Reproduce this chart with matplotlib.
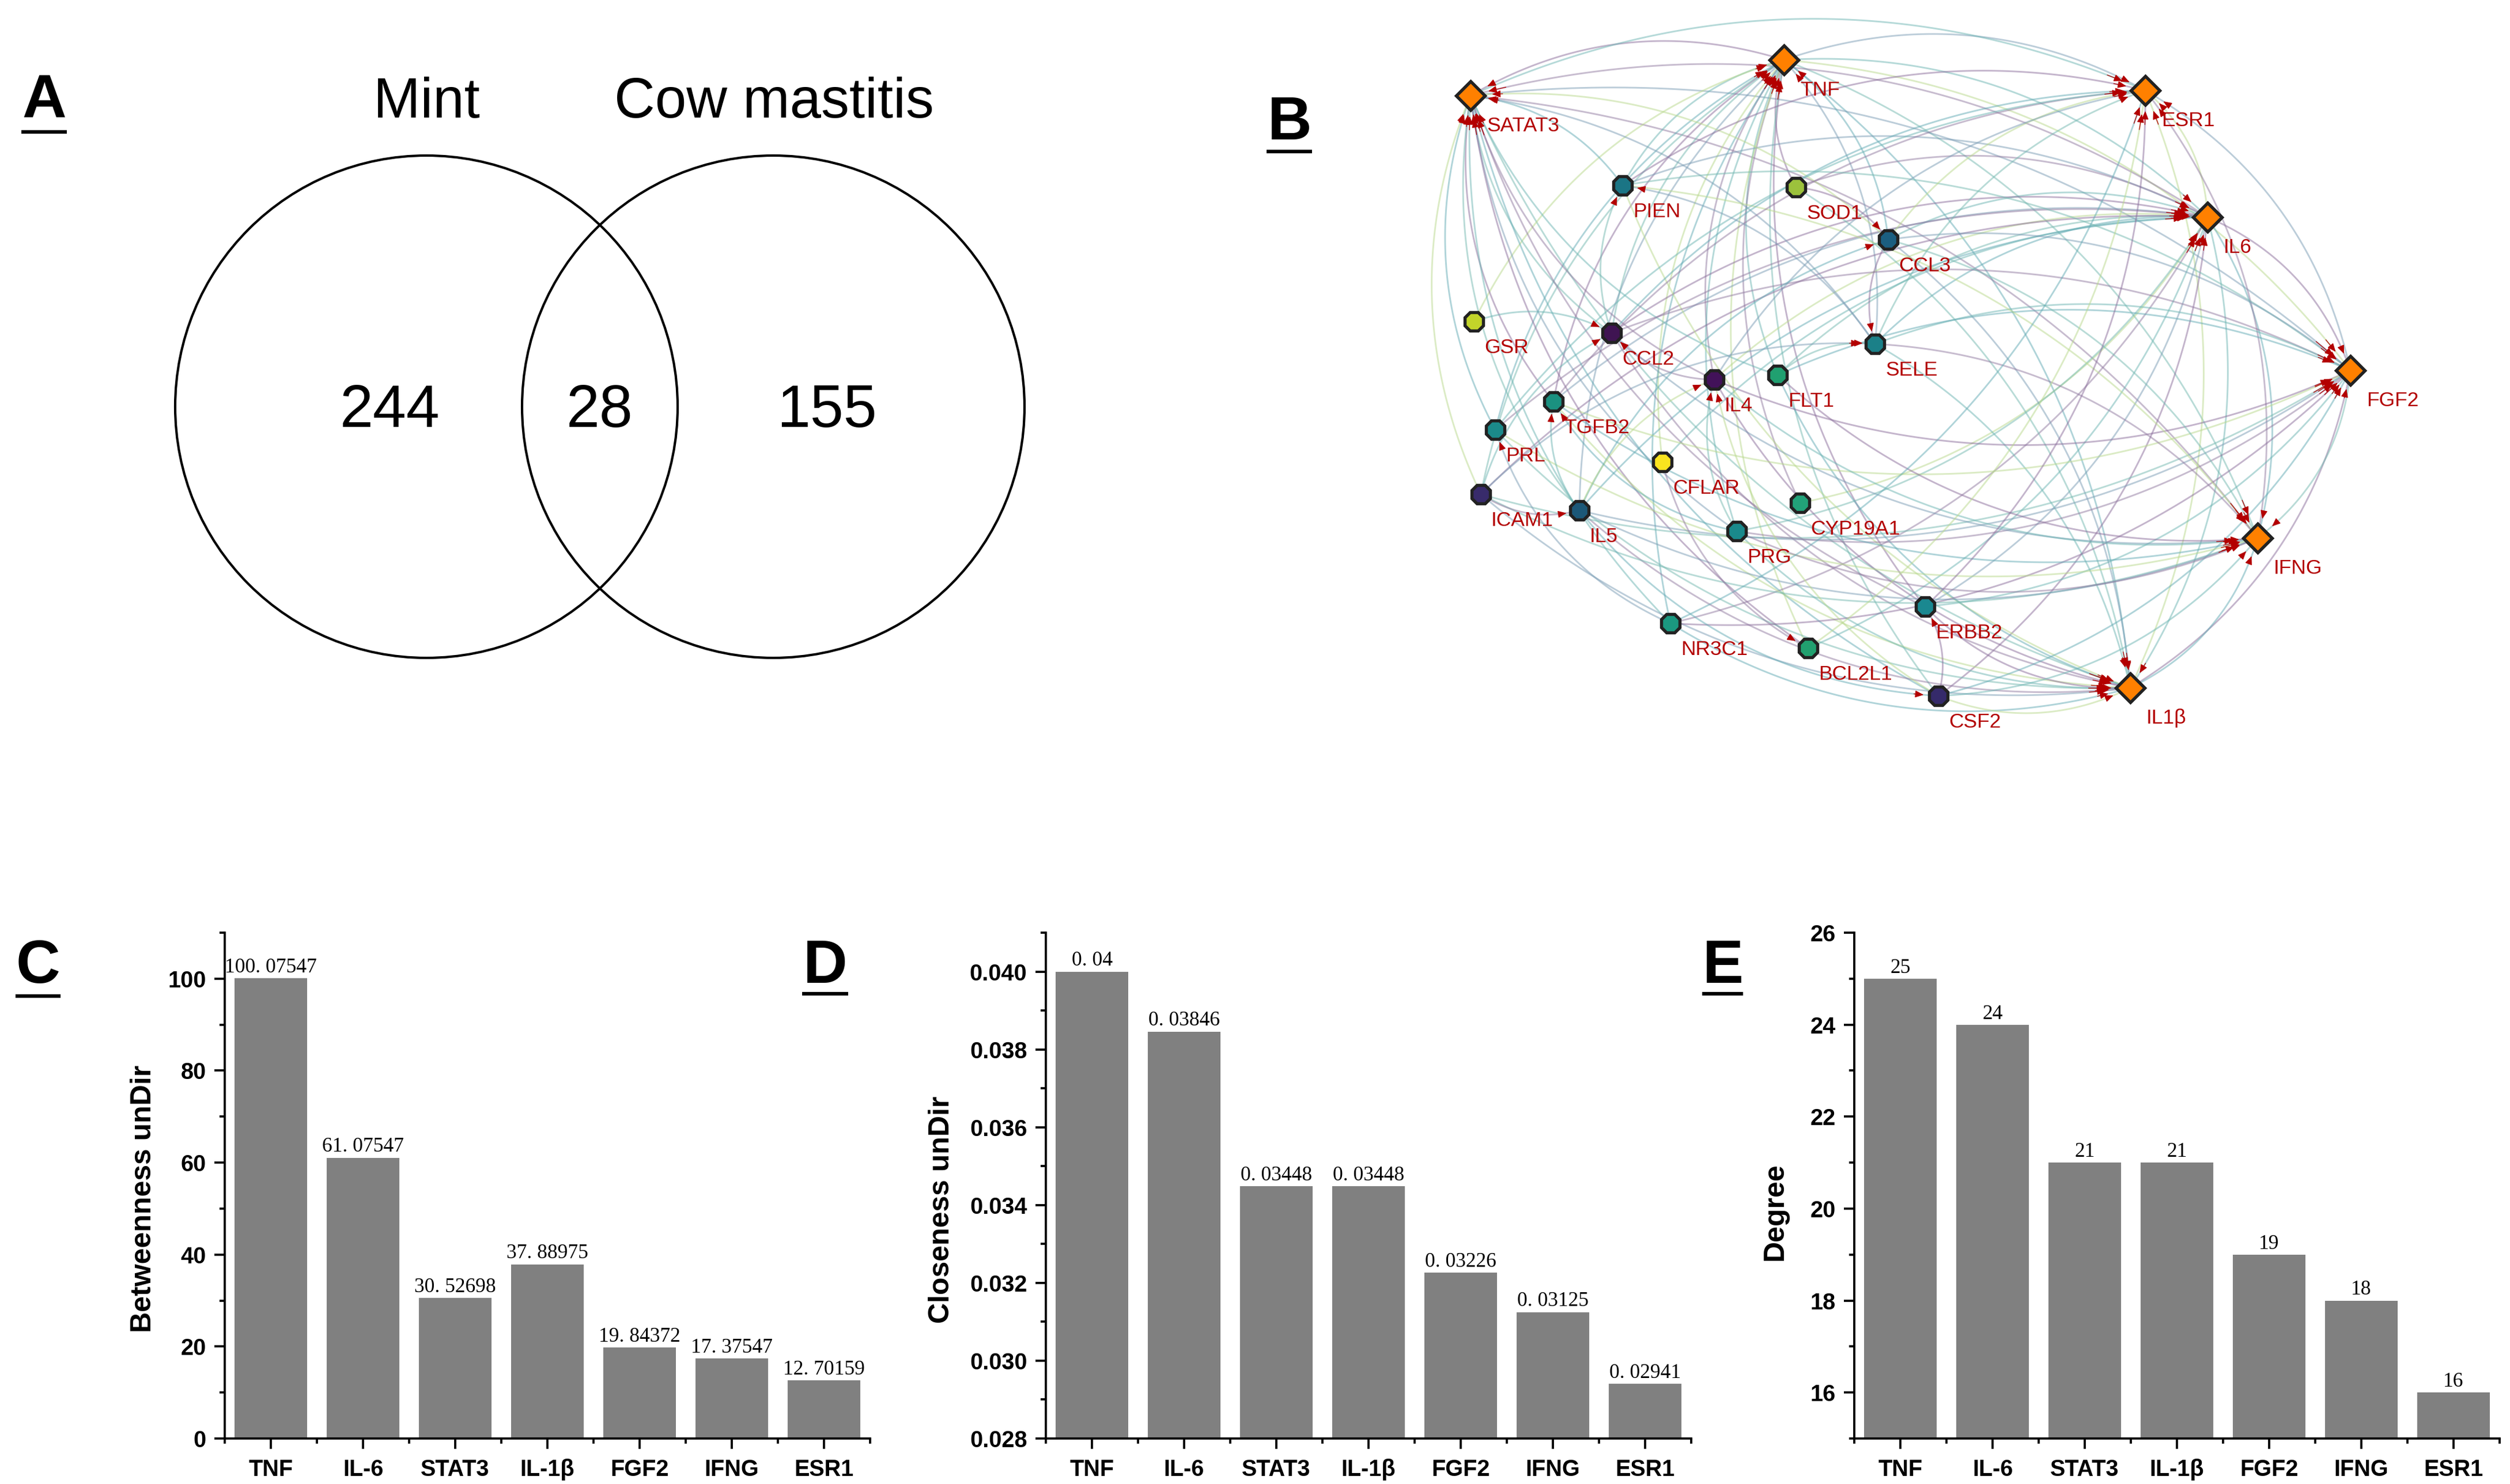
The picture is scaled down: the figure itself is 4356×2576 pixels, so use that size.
import numpy as np
import matplotlib.pyplot as plt
from matplotlib.patches import Circle
from matplotlib.ticker import MultipleLocator, FixedLocator, FormatStrFormatter

plt.rcParams['font.family'] = ['Liberation Sans', 'DejaVu Sans']

W, H = 4356, 2576

# ---- panel A: Venn counts
venn_sets = ['Mint', 'Cow mastitis']
venn_counts = [244, 28, 155]

# ---- panel B: network (positions, pixel units)
node_names = ['SATAT3', 'TNF', 'ESR1', 'IL6', 'FGF2', 'IFNG', 'IL1β',
              'PIEN', 'SOD1', 'CCL3', 'GSR', 'CCL2', 'SELE', 'IL4', 'FLT1',
              'TGFB2', 'PRL', 'CFLAR', 'ICAM1', 'IL5', 'CYP19A1', 'PRG',
              'ERBB2', 'NR3C1', 'BCL2L1', 'CSF2']
node_x = [2552, 3096, 3723, 3831, 4079, 3918, 3697,
          2816, 3117, 3277, 2558, 2797, 3254, 2975, 3085,
          2696, 2595, 2885, 2570, 2741, 3124, 3014,
          3341, 2899, 3138, 3364]
node_y = [166, 104, 157, 377, 643, 934, 1194,
          322, 325, 416, 558, 578, 597, 659, 651,
          697, 746, 802, 858, 886, 873, 922,
          1053, 1082, 1125, 1208]
node_colors = ['#ff8000'] * 7 + [
    '#1b7585', '#9cc23c', '#1b5e80', '#c2d42a', '#3f1452', '#1b8088',
    '#421259', '#20a070', '#1b9180', '#1b8a8a', '#f9e41f', '#382b6b',
    '#1c5878', '#22a279', '#1a8a8c', '#1a8890', '#1b9880', '#21a06f',
    '#352a6a']

hub_pairs = [('TNF', 'IL6'), ('TNF', 'SATAT3'), ('TNF', 'IL1β'), ('TNF', 'FGF2'),
             ('TNF', 'IFNG'), ('TNF', 'ESR1'), ('IL6', 'SATAT3'), ('IL6', 'IL1β'),
             ('IL6', 'FGF2'), ('IL6', 'IFNG'), ('IL6', 'ESR1'), ('SATAT3', 'IL1β'),
             ('SATAT3', 'FGF2'), ('SATAT3', 'IFNG'), ('SATAT3', 'ESR1'),
             ('IL1β', 'FGF2'), ('IL1β', 'IFNG'), ('IL1β', 'ESR1'),
             ('FGF2', 'IFNG'), ('FGF2', 'ESR1'), ('IFNG', 'ESR1')]
tnf_links = ['PIEN', 'SOD1', 'CCL3', 'GSR', 'CCL2', 'SELE', 'IL4', 'FLT1', 'TGFB2',
             'PRL', 'CFLAR', 'ICAM1', 'IL5', 'CYP19A1', 'PRG', 'ERBB2', 'NR3C1',
             'BCL2L1', 'CSF2']
il6_links = ['PIEN', 'SOD1', 'CCL3', 'CCL2', 'SELE', 'IL4', 'FLT1', 'TGFB2',
             'PRL', 'CFLAR', 'ICAM1', 'IL5', 'CYP19A1', 'PRG', 'ERBB2', 'NR3C1',
             'BCL2L1', 'CSF2']
stat3_links = ['PIEN', 'CCL3', 'CCL2', 'SELE', 'IL4', 'FLT1', 'TGFB2', 'PRL',
               'ICAM1', 'IL5', 'PRG', 'ERBB2', 'NR3C1', 'BCL2L1', 'CSF2']
il1b_links = ['PIEN', 'SOD1', 'CCL3', 'CCL2', 'SELE', 'IL4', 'FLT1', 'TGFB2',
              'PRL', 'ICAM1', 'IL5', 'PRG', 'ERBB2', 'NR3C1', 'CSF2']
fgf2_links = ['PIEN', 'CCL3', 'CCL2', 'SELE', 'IL4', 'FLT1', 'TGFB2', 'ICAM1',
              'IL5', 'PRG', 'ERBB2', 'NR3C1', 'CSF2']
ifng_links = ['PIEN', 'CCL3', 'CCL2', 'SELE', 'IL4', 'FLT1', 'TGFB2', 'PRL',
              'ICAM1', 'IL5', 'PRG', 'CSF2']
esr1_links = ['PIEN', 'CCL2', 'CCL3', 'SELE', 'IL4', 'TGFB2', 'PRL', 'ERBB2',
              'NR3C1', 'BCL2L1']
other_links = [('CCL2', 'PIEN'), ('SELE', 'PIEN'), ('IL4', 'CCL2'), ('ICAM1', 'CCL2'),
               ('CCL3', 'SELE'), ('IL5', 'CCL3'), ('IL5', 'IL4'), ('PRG', 'IL4'),
               ('ICAM1', 'SELE'), ('ICAM1', 'IL5'), ('IL5', 'TGFB2'), ('CSF2', 'ERBB2'),
               ('IL5', 'CSF2'), ('CSF2', 'IL4'), ('FLT1', 'SELE'), ('NR3C1', 'PRL'),
               ('CFLAR', 'BCL2L1'), ('GSR', 'CCL2'), ('SOD1', 'CCL3'), ('PRG', 'TGFB2')]

# ---- panels C-E
genes = ['TNF', 'IL-6', 'STAT3', 'IL-1β', 'FGF2', 'IFNG', 'ESR1']
betweenness = [100.07547, 61.07547, 30.52698, 37.88975, 19.84372, 17.37547, 12.70159]
closeness = [0.04, 0.03846, 0.03448, 0.03448, 0.03226, 0.03125, 0.02941]
degree = [25, 24, 21, 21, 19, 18, 16]

fig = plt.figure(figsize=(W / 300, H / 300), dpi=300)
ov = fig.add_axes([0, 0, 1, 1])
ov.set_xlim(0, W)
ov.set_ylim(H, 0)
ov.axis('off')

# panel letters with underline
letters = [('A', 77, 204, 37, 116, 229), ('B', 2238, 242, 2198, 2277, 263),
           ('C', 66, 1706, 27, 105, 1729), ('D', 1432, 1706, 1392, 1472, 1725),
           ('E', 2990, 1706, 2954, 3025, 1725)]
for t, x, y, x0, x1, yu in letters:
    ov.text(x, y, t, fontsize=25.5, fontweight='bold', ha='center', va='baseline', zorder=10)
    ov.plot([x0, x1], [yu, yu], color='black', lw=1.5, solid_capstyle='butt', zorder=10)

# Venn
for cx in [740, 1342]:
    ov.add_patch(Circle((cx, 706), 436, fill=False, ec='black', lw=1.0))
ov.text(740, 204, venn_sets[0], fontsize=23.5, ha='center', va='baseline')
ov.text(1343, 204, venn_sets[1], fontsize=23.5, ha='center', va='baseline')
for cx, n in zip([677, 1041, 1435], venn_counts):
    ov.text(cx, 741, str(n), fontsize=25, ha='center', va='baseline')

# network
pos = {n: (x, y) for n, x, y in zip(node_names, node_x, node_y)}
hubs = node_names[:7]
edges = list(hub_pairs)
for hub, nbs in zip(['TNF', 'IL6', 'SATAT3', 'IL1β', 'FGF2', 'IFNG', 'ESR1'],
                    [tnf_links, il6_links, stat3_links, il1b_links, fgf2_links,
                     ifng_links, esr1_links]):
    edges += [(nb, hub) for nb in nbs]
edges += other_links

centre = np.array([3250.0, 650.0])
edge_palette = ['#6cb5b3', '#8a6d9b', '#62aab4', '#b9d98c', '#74b9b0', '#7a9cb5', '#917aa0']
tt = np.linspace(0, 1, 90)
for i, (s, d) in enumerate(edges):
    p0 = np.array(pos[s], float)
    p2 = np.array(pos[d], float)
    v = p2 - p0
    mid = (p0 + p2) / 2
    perp = np.array([-v[1], v[0]])
    # bow each edge away from the middle of the network
    if np.dot(perp, mid - centre) < 0:
        perp = -perp
    c = mid + 0.22 * perp
    pts = ((1 - tt) ** 2)[:, None] * p0 + (2 * (1 - tt) * tt)[:, None] * c + (tt ** 2)[:, None] * p2
    ov.plot(pts[:, 0], pts[:, 1], color=edge_palette[i % len(edge_palette)],
            lw=0.7, alpha=0.5, zorder=1, solid_capstyle='round')
    r = 30 if d in hubs else 21
    dist = np.hypot(pts[:, 0] - p2[0], pts[:, 1] - p2[1])
    k = np.where(dist > r)[0][-1]
    ov.annotate('', xy=pts[k], xytext=pts[max(k - 2, 0)],
                arrowprops=dict(arrowstyle='-|>,head_length=0.6,head_width=0.25',
                                color='#b30000', lw=0.3, shrinkA=0, shrinkB=0,
                                mutation_scale=5), zorder=2)

for n, x, y, col in zip(node_names, node_x, node_y, node_colors):
    if n in hubs:
        ov.plot(x, y, marker='D', ms=8.6, mfc=col, mec='#222222', mew=1.3, zorder=3)
        ov.text(x + 28, y + 52, n, fontsize=8.5, color='#b30000', ha='left', va='center', zorder=4)
    else:
        ov.plot(x, y, marker='8', ms=8.2, mfc=col, mec='#222222', mew=1.3, zorder=3)
        ov.text(x + 18, y + 45, n, fontsize=8.5, color='#b30000', ha='left', va='center', zorder=4)


def bar_panel(left, values, ylim, major, minor, fmt, ylabel, lab_x, lab_y):
    ax = fig.add_axes([left / W, 1 - 2497 / H, 1120 / W, 878 / H])
    ax.set_facecolor('none')
    x = np.arange(len(genes))
    ax.bar(x, values, width=0.79, color='#808080', zorder=2)
    for xi, v in zip(x, values):
        ax.annotate(str(v).replace('.', '. '), (xi, v), xytext=(0, 0.5),
                    textcoords='offset points', ha='center', va='bottom',
                    fontsize=8.5, family=['Liberation Serif', 'DejaVu Serif'], zorder=5)
    ax.set_xlim(-0.5, 6.5)
    ax.set_ylim(*ylim)
    ax.set_xticks(x)
    ax.set_xticklabels(genes, fontsize=9.5, fontweight='bold')
    ax.xaxis.set_minor_locator(FixedLocator(np.arange(-0.5, 7, 1)))
    ax.yaxis.set_major_locator(MultipleLocator(major))
    ax.yaxis.set_minor_locator(MultipleLocator(minor))
    ax.yaxis.set_major_formatter(FormatStrFormatter(fmt))
    for lb in ax.get_yticklabels():
        lb.set_fontweight('bold')
        lb.set_fontsize(9.5)
    ax.tick_params(which='major', direction='out', length=4.3, width=0.9)
    ax.tick_params(which='minor', direction='out', length=2.2, width=0.9)
    ax.tick_params(axis='x', which='major', pad=4)
    for sp in ['top', 'right']:
        ax.spines[sp].set_visible(False)
    for sp in ['left', 'bottom']:
        ax.spines[sp].set_linewidth(0.9)
    fig.text(lab_x / W, 1 - lab_y / H, ylabel, rotation=90, ha='center', va='center',
             fontsize=12, fontweight='bold')
    return ax


bar_panel(390, betweenness, (0, 110), 20, 10, '%d', 'Betweenness unDir', 249, 2081)
bar_panel(1815, closeness, (0.028, 0.041), 0.002, 0.001, '%.3f', 'Closeness unDir', 1634, 2100)
bar_panel(3218, degree, (15, 26), 2, 1, '%d', 'Degree', 3081, 2103)

fig.savefig('out.png', dpi=300)
